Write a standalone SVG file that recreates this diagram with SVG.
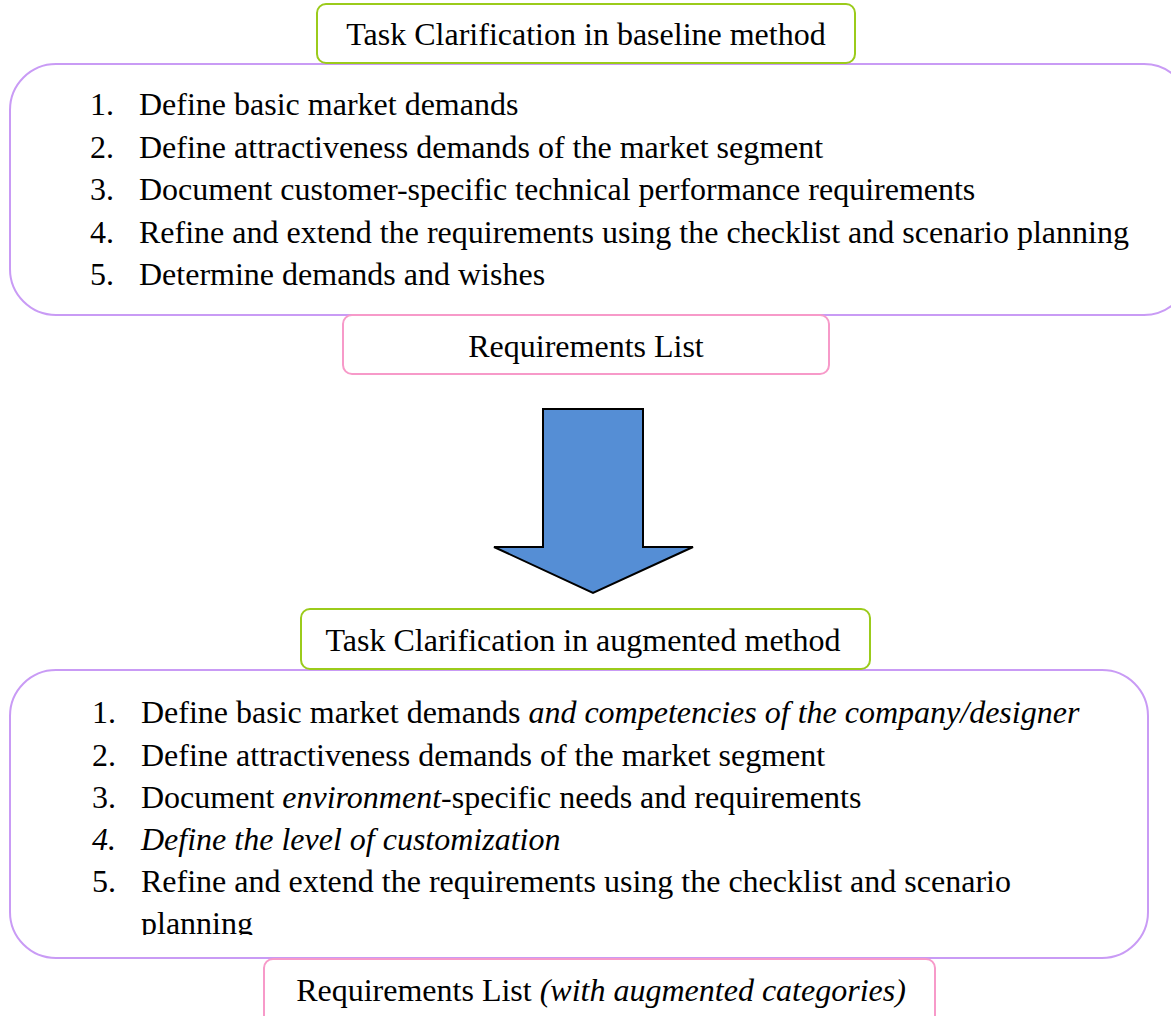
<svg xmlns="http://www.w3.org/2000/svg" width="1171" height="1016" viewBox="0 0 1171 1016">
  <style>
    .t { font-family: "Liberation Serif", "Times New Roman", serif; font-size: 32px; fill: #000; }
    .c { text-anchor: middle; }
    .i { font-style: italic; }
    .title { fill: #fff; stroke: #9BCB1B; stroke-width: 2; }
    .panel { fill: #fff; stroke: #C99BF5; stroke-width: 2; }
    .out { fill: #fff; stroke: #F79AC9; stroke-width: 2; }
  </style>
  <defs>
    <clipPath id="clip-aug">
      <rect x="0" y="670" width="1171" height="265"/>
    </clipPath>
  </defs>
  <rect width="1171" height="1016" fill="#fff"/>

  <!-- baseline method steps -->
  <g id="baseline-steps">
    <rect class="panel" x="10" y="64" width="1180" height="251" rx="46" ry="46"/>
    <text class="t" x="90" y="115">1.</text><text class="t" x="139" y="115">Define basic market demands</text>
    <text class="t" x="90" y="158">2.</text><text class="t" x="139" y="158">Define attractiveness demands of the market segment</text>
    <text class="t" x="90" y="200">3.</text><text class="t" x="139" y="200">Document customer-specific technical performance requirements</text>
    <text class="t" x="90" y="243">4.</text><text class="t" x="139" y="243">Refine and extend the requirements using the checklist and scenario planning</text>
    <text class="t" x="90" y="285">5.</text><text class="t" x="139" y="285">Determine demands and wishes</text>
  </g>

  <!-- baseline title -->
  <g id="baseline-title">
    <rect class="title" x="317" y="4" width="538" height="59" rx="9" ry="9"/>
    <text class="t c" x="586" y="45">Task Clarification in baseline method</text>
  </g>

  <!-- baseline output -->
  <g id="baseline-output">
    <rect class="out" x="343" y="315" width="486" height="59" rx="9" ry="9"/>
    <text class="t c" x="586" y="357">Requirements List</text>
  </g>

  <!-- transition arrow -->
  <g id="connectors">
    <polygon points="543,409 643,409 643,547 693,547 593,593 494,547 543,547" fill="#558ED5" stroke="#000" stroke-width="2" stroke-linejoin="miter"/>
  </g>

  <!-- augmented method steps -->
  <g id="augmented-steps">
    <rect class="panel" x="10" y="670" width="1138" height="288" rx="46" ry="46"/>
    <g clip-path="url(#clip-aug)">
      <text class="t" x="92" y="723">1.</text><text class="t" x="141" y="723">Define basic market demands <tspan class="i">and competencies of the company/designer</tspan></text>
      <text class="t" x="92" y="766">2.</text><text class="t" x="141" y="766">Define attractiveness demands of the market segment</text>
      <text class="t" x="92" y="808">3.</text><text class="t" x="141" y="808">Document <tspan class="i">environment</tspan>-specific needs and requirements</text>
      <text class="t i" x="92" y="850">4.</text><text class="t i" x="141" y="850">Define the level of customization</text>
      <text class="t" x="92" y="892">5.</text><text class="t" x="141" y="892">Refine and extend the requirements using the checklist and scenario</text>
      <text class="t" x="141" y="934">planning</text>
    </g>
  </g>

  <!-- augmented title -->
  <g id="augmented-title">
    <rect class="title" x="301" y="609" width="569" height="60" rx="9" ry="9"/>
    <text class="t c" x="583" y="651">Task Clarification in augmented method</text>
  </g>

  <!-- augmented output -->
  <g id="augmented-output">
    <rect class="out" x="264" y="959" width="671" height="70" rx="9" ry="9"/>
    <text class="t c" x="601" y="1001">Requirements List <tspan class="i">(with augmented categories)</tspan></text>
  </g>
</svg>
